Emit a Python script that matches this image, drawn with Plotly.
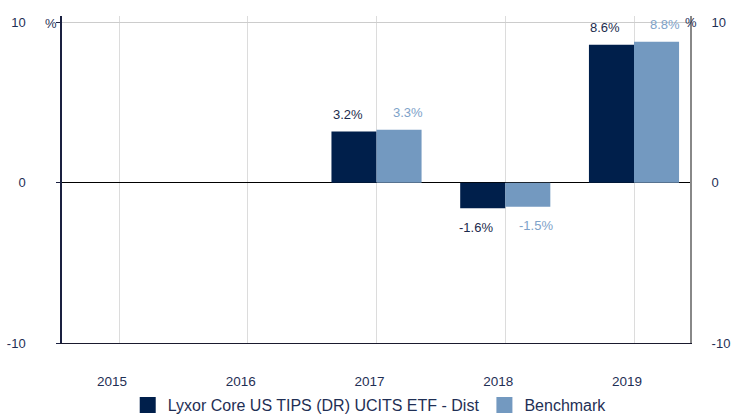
import plotly.graph_objects as go

years = ["2015", "2016", "2017", "2018", "2019"]
fund_name = "Lyxor Core US TIPS (DR) UCITS ETF - Dist"
bench_name = "Benchmark"
fund_values = [None, None, 3.2, -1.6, 8.6]
bench_values = [None, None, 3.3, -1.5, 8.8]
y_ticks = [-10, 0, 10]
y_tick_labels = ["-10", "0", "10"]

DARK = "#001f4b"
LIGHT = "#7399c0"
DARK_TXT = "#1b2a4c"
LIGHT_TXT = "#7ea2c9"
TICK_TXT = "#1f2f55"
FONT = "Liberation Sans, Arial, sans-serif"

fig = go.Figure()
fig.add_trace(go.Bar(x=years, y=fund_values, marker=dict(color=DARK, line=dict(width=0)),
                     showlegend=False, name=fund_name))
fig.add_trace(go.Bar(x=years, y=bench_values, marker=dict(color=LIGHT, line=dict(width=0)),
                     showlegend=False, name=bench_name))
# legend-only markers (bigger squares)
fig.add_trace(go.Scatter(x=[None], y=[None], mode="markers", name=fund_name,
                         marker=dict(symbol="square", size=20, color=DARK)))
fig.add_trace(go.Scatter(x=[None], y=[None], mode="markers", name=bench_name,
                         marker=dict(symbol="square", size=20, color=LIGHT)))
# invisible trace for right axis
fig.add_trace(go.Scatter(x=[years[0]], y=[0], yaxis="y2", mode="markers",
                         marker=dict(opacity=0), showlegend=False, hoverinfo="skip"))

annotations = []
for i, v in enumerate(fund_values):
    if v is None:
        continue
    annotations.append(dict(x=i, y=v, xref="x", yref="y", text=f"{v:.1f}%", showarrow=False,
                            xshift=-29, yshift=17 if v >= 0 else -19,
                            font=dict(family=FONT, size=13, color=DARK_TXT)))
for i, v in enumerate(bench_values):
    if v is None:
        continue
    annotations.append(dict(x=i, y=v, xref="x", yref="y", text=f"{v:.1f}%", showarrow=False,
                            xshift=31, yshift=17 if v >= 0 else -19,
                            font=dict(family=FONT, size=13, color=LIGHT_TXT)))
annotations.append(dict(x=0, y=10, xref="paper", yref="y", text="%", showarrow=False,
                        xshift=-19, yshift=-1, font=dict(family=FONT, size=13, color=TICK_TXT)))
annotations.append(dict(x=1, y=10, xref="paper", yref="y", text="%", showarrow=False,
                        xshift=9, font=dict(family=FONT, size=13, color=TICK_TXT)))

yr_range = [-10, 10.4]
fig.update_layout(
    width=731, height=416,
    margin=dict(l=62, r=41, t=16, b=73, autoexpand=False),
    paper_bgcolor="white", plot_bgcolor="white",
    barmode="group", bargap=0.3, bargroupgap=0,
    font=dict(family=FONT, size=13, color=TICK_TXT),
    xaxis=dict(type="category", range=[-0.443, 4.435], showgrid=True, gridcolor="#dcdcdc",
               gridwidth=1, showline=True, linecolor="#1a1a2e", linewidth=1, ticks="",
               ticklabelstandoff=26, ticklabelshift=-7, automargin=False,
               tickfont=dict(family=FONT, size=13.5, color=TICK_TXT), fixedrange=True),
    yaxis=dict(range=yr_range, tickvals=y_ticks, ticktext=y_tick_labels, showgrid=True,
               gridcolor="#cccccc",
               zeroline=True, zerolinecolor="#000000", zerolinewidth=1,
               showline=True, linecolor="#1a2040", linewidth=1.5, ticks="outside", ticklen=4,
               tickcolor="#1a2040", ticklabelstandoff=28, automargin=False,
               tickfont=dict(family=FONT, size=13, color=TICK_TXT)),
    yaxis2=dict(range=yr_range, tickvals=y_ticks, ticktext=y_tick_labels, overlaying="y",
                side="right", showgrid=False,
                zeroline=False, showline=True, linecolor="#888888", linewidth=2,
                ticks="", ticklabelstandoff=17, automargin=False,
                tickfont=dict(family=FONT, size=13, color=TICK_TXT)),
    legend=dict(orientation="h", x=0.49, xanchor="center", y=-0.19, yanchor="middle",
                font=dict(family=FONT, size=16, color=TICK_TXT), itemsizing="trace",
                itemwidth=30, tracegroupgap=0),
    annotations=annotations,
    showlegend=True,
)

fig.write_html("out.html", config={"displayModeBar": False},
               post_script="document.body.style.margin='0';")
